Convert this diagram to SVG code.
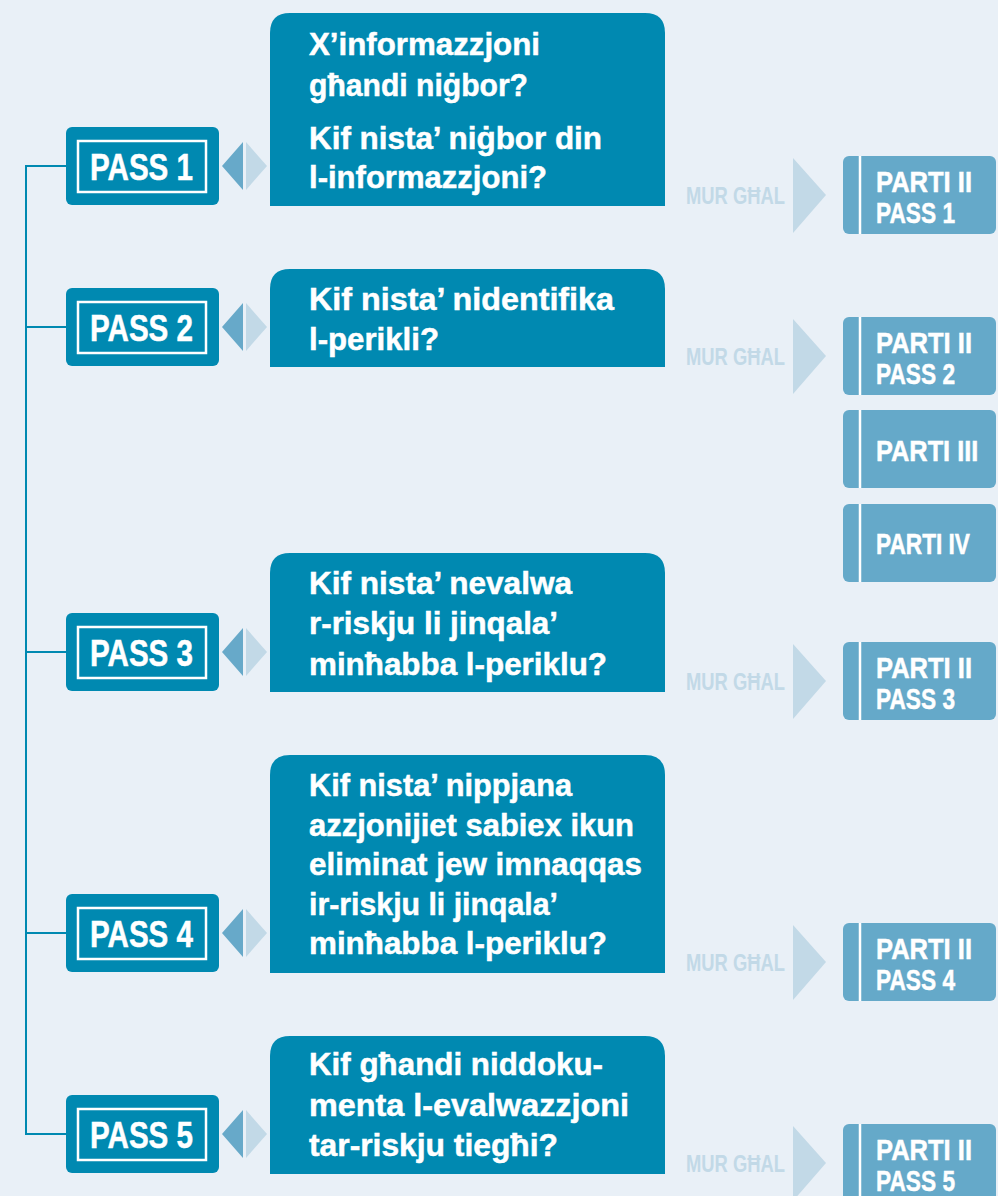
<svg xmlns="http://www.w3.org/2000/svg" width="998" height="1196" viewBox="0 0 998 1196">
<style>
.bg{fill:#e9f0f7}
.pass{fill:#0089b1}
.inner{fill:none;stroke:#ffffff;stroke-width:2.5}
.q{fill:#0089b1}
.qt{font-family:"Liberation Sans",Arial,sans-serif;font-weight:bold;font-size:32px;fill:#ffffff;stroke:#ffffff;stroke-width:0.5}
.pt{font-family:"Liberation Sans",Arial,sans-serif;font-weight:bold;font-size:36px;fill:#ffffff;stroke:#ffffff;stroke-width:0.5}
.rb{fill:#65a9c9}
.rl{stroke:#ffffff;stroke-width:2.5}
.rt{font-family:"Liberation Sans",Arial,sans-serif;font-weight:bold;font-size:30px;fill:#ffffff;stroke:#ffffff;stroke-width:0.5}
.mur{font-family:"Liberation Sans",Arial,sans-serif;font-weight:bold;font-size:24px;fill:#c2d9e7}
.arr{fill:#c2d9e7}
.dd{fill:#67a9c9}
.dl{fill:#c2d9e7}
.con{fill:none;stroke:#0089b1;stroke-width:2}
</style>
<rect class="bg" x="0" y="0" width="998" height="1196"/>

<g id="connectors">
<path class="con" d="M66,166 H26 V1134 H66 M26,327 H66 M26,652 H66 M26,933 H66"/>
</g>

<g id="pass1">
<rect class="pass" x="66" y="127" width="153" height="78" rx="6"/>
<rect class="inner" x="78" y="141" width="128" height="51"/>
<text class="pt" x="90" y="180" textLength="103" lengthAdjust="spacingAndGlyphs">PASS 1</text>
<polygon class="dd" points="222,166 243,142 243,190"/>
<polygon class="dl" points="246,142 267,166 246,190"/>
</g>
<g id="pass2">
<rect class="pass" x="66" y="288" width="153" height="78" rx="6"/>
<rect class="inner" x="78" y="302" width="128" height="51"/>
<text class="pt" x="90" y="341" textLength="103" lengthAdjust="spacingAndGlyphs">PASS 2</text>
<polygon class="dd" points="222,327 243,303 243,351"/>
<polygon class="dl" points="246,303 267,327 246,351"/>
</g>
<g id="pass3">
<rect class="pass" x="66" y="613" width="153" height="78" rx="6"/>
<rect class="inner" x="78" y="627" width="128" height="51"/>
<text class="pt" x="90" y="666" textLength="103" lengthAdjust="spacingAndGlyphs">PASS 3</text>
<polygon class="dd" points="222,652 243,628 243,676"/>
<polygon class="dl" points="246,628 267,652 246,676"/>
</g>
<g id="pass4">
<rect class="pass" x="66" y="894" width="153" height="78" rx="6"/>
<rect class="inner" x="78" y="908" width="128" height="51"/>
<text class="pt" x="90" y="947" textLength="103" lengthAdjust="spacingAndGlyphs">PASS 4</text>
<polygon class="dd" points="222,933 243,909 243,957"/>
<polygon class="dl" points="246,909 267,933 246,957"/>
</g>
<g id="pass5">
<rect class="pass" x="66" y="1095" width="153" height="78" rx="6"/>
<rect class="inner" x="78" y="1109" width="128" height="51"/>
<text class="pt" x="90" y="1148" textLength="103" lengthAdjust="spacingAndGlyphs">PASS 5</text>
<polygon class="dd" points="222,1134 243,1110 243,1158"/>
<polygon class="dl" points="246,1110 267,1134 246,1158"/>
</g>

<g id="q1">
<path class="q" d="M270,206 V33 Q270,13 290,13 H645 Q665,13 665,33 V206 Z"/>
<text class="qt" x="309" y="55" textLength="231" lengthAdjust="spacingAndGlyphs">X’informazzjoni</text>
<text class="qt" x="309" y="96" textLength="219" lengthAdjust="spacingAndGlyphs">għandi niġbor?</text>
<text class="qt" x="309" y="149" textLength="293" lengthAdjust="spacingAndGlyphs">Kif nista’ niġbor din</text>
<text class="qt" x="309" y="188" textLength="238" lengthAdjust="spacingAndGlyphs">l-informazzjoni?</text>
</g>
<g id="q2">
<path class="q" d="M270,367 V289 Q270,269 290,269 H645 Q665,269 665,289 V367 Z"/>
<text class="qt" x="309" y="310" textLength="305" lengthAdjust="spacingAndGlyphs">Kif nista’ nidentifika</text>
<text class="qt" x="309" y="350" textLength="130" lengthAdjust="spacingAndGlyphs">l-perikli?</text>
</g>
<g id="q3">
<path class="q" d="M270,692 V573 Q270,553 290,553 H645 Q665,553 665,573 V692 Z"/>
<text class="qt" x="309" y="594" textLength="263" lengthAdjust="spacingAndGlyphs">Kif nista’ nevalwa</text>
<text class="qt" x="309" y="634" textLength="249" lengthAdjust="spacingAndGlyphs">r-riskju li jinqala’</text>
<text class="qt" x="309" y="675" textLength="298" lengthAdjust="spacingAndGlyphs">minħabba l-periklu?</text>
</g>
<g id="q4">
<path class="q" d="M270,973 V775 Q270,755 290,755 H645 Q665,755 665,775 V973 Z"/>
<text class="qt" x="309" y="796" textLength="263" lengthAdjust="spacingAndGlyphs">Kif nista’ nippjana</text>
<text class="qt" x="309" y="836" textLength="325" lengthAdjust="spacingAndGlyphs">azzjonijiet sabiex ikun</text>
<text class="qt" x="309" y="875" textLength="333" lengthAdjust="spacingAndGlyphs">eliminat jew imnaqqas</text>
<text class="qt" x="309" y="915" textLength="249" lengthAdjust="spacingAndGlyphs">ir-riskju li jinqala’</text>
<text class="qt" x="309" y="954" textLength="298" lengthAdjust="spacingAndGlyphs">minħabba l-periklu?</text>
</g>
<g id="q5">
<path class="q" d="M270,1174 V1056 Q270,1036 290,1036 H645 Q665,1036 665,1056 V1174 Z"/>
<text class="qt" x="309" y="1075" textLength="294" lengthAdjust="spacingAndGlyphs">Kif għandi niddoku-</text>
<text class="qt" x="309" y="1116" textLength="320" lengthAdjust="spacingAndGlyphs">menta l-evalwazzjoni</text>
<text class="qt" x="309" y="1156" textLength="249" lengthAdjust="spacingAndGlyphs">tar-riskju tiegħi?</text>
</g>

<g id="mur1">
<text class="mur" x="686" y="204" textLength="99" lengthAdjust="spacingAndGlyphs">MUR GĦAL</text>
<polygon class="arr" points="793,158 826,195 793,233"/>
</g>
<g id="mur2">
<text class="mur" x="686" y="365" textLength="99" lengthAdjust="spacingAndGlyphs">MUR GĦAL</text>
<polygon class="arr" points="793,319 826,356 793,394"/>
</g>
<g id="mur3">
<text class="mur" x="686" y="690" textLength="99" lengthAdjust="spacingAndGlyphs">MUR GĦAL</text>
<polygon class="arr" points="793,644 826,681 793,719"/>
</g>
<g id="mur4">
<text class="mur" x="686" y="971" textLength="99" lengthAdjust="spacingAndGlyphs">MUR GĦAL</text>
<polygon class="arr" points="793,925 826,962 793,1000"/>
</g>
<g id="mur5">
<text class="mur" x="686" y="1172" textLength="99" lengthAdjust="spacingAndGlyphs">MUR GĦAL</text>
<polygon class="arr" points="793,1126 826,1163 793,1201"/>
</g>

<g id="parti2-pass1">
<rect class="rb" x="843" y="156" width="153" height="78" rx="6"/>
<line class="rl" x1="860" y1="156" x2="860" y2="234"/>
<text class="rt" x="876" y="192" textLength="96" lengthAdjust="spacingAndGlyphs">PARTI II</text>
<text class="rt" x="876" y="223" textLength="79" lengthAdjust="spacingAndGlyphs">PASS 1</text>
</g>
<g id="parti2-pass2">
<rect class="rb" x="843" y="317" width="153" height="78" rx="6"/>
<line class="rl" x1="860" y1="317" x2="860" y2="395"/>
<text class="rt" x="876" y="353" textLength="96" lengthAdjust="spacingAndGlyphs">PARTI II</text>
<text class="rt" x="876" y="384" textLength="79" lengthAdjust="spacingAndGlyphs">PASS 2</text>
</g>
<g id="parti3">
<rect class="rb" x="843" y="410" width="153" height="78" rx="6"/>
<line class="rl" x1="860" y1="410" x2="860" y2="488"/>
<text class="rt" transform="translate(876,461) scale(0.845,1)" x="0" y="0">PARTI III</text>
</g>
<g id="parti4">
<rect class="rb" x="843" y="504" width="153" height="78" rx="6"/>
<line class="rl" x1="860" y1="504" x2="860" y2="582"/>
<text class="rt" transform="translate(876,554) scale(0.755,1)" x="0" y="0">PARTI IV</text>
</g>
<g id="parti2-pass3">
<rect class="rb" x="843" y="642" width="153" height="78" rx="6"/>
<line class="rl" x1="860" y1="642" x2="860" y2="720"/>
<text class="rt" x="876" y="678" textLength="96" lengthAdjust="spacingAndGlyphs">PARTI II</text>
<text class="rt" x="876" y="709" textLength="79" lengthAdjust="spacingAndGlyphs">PASS 3</text>
</g>
<g id="parti2-pass4">
<rect class="rb" x="843" y="923" width="153" height="78" rx="6"/>
<line class="rl" x1="860" y1="923" x2="860" y2="1001"/>
<text class="rt" x="876" y="959" textLength="96" lengthAdjust="spacingAndGlyphs">PARTI II</text>
<text class="rt" x="876" y="990" textLength="79" lengthAdjust="spacingAndGlyphs">PASS 4</text>
</g>
<g id="parti2-pass5">
<rect class="rb" x="843" y="1124" width="153" height="78" rx="6"/>
<line class="rl" x1="860" y1="1124" x2="860" y2="1202"/>
<text class="rt" x="876" y="1160" textLength="96" lengthAdjust="spacingAndGlyphs">PARTI II</text>
<text class="rt" x="876" y="1191" textLength="79" lengthAdjust="spacingAndGlyphs">PASS 5</text>
</g>
</svg>
